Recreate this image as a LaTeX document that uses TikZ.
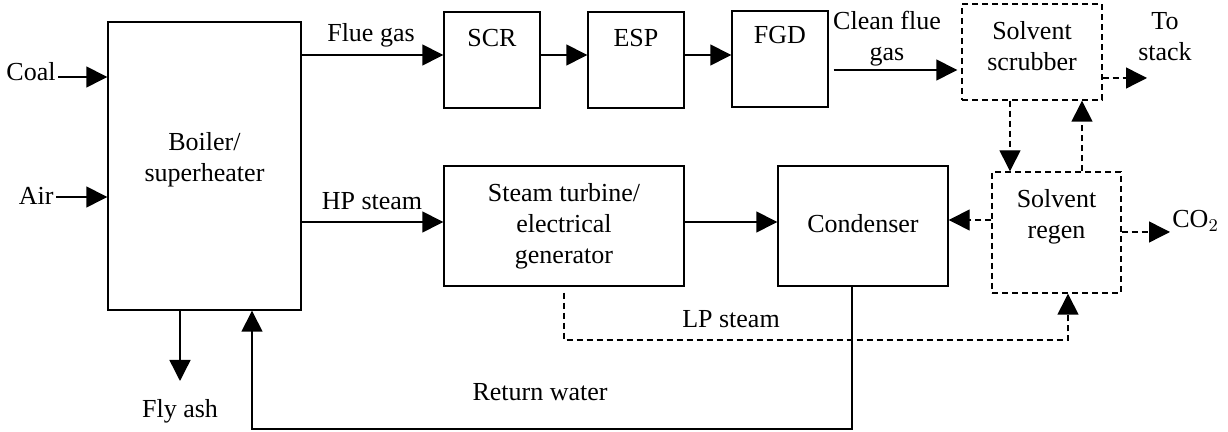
\documentclass[tikz,border=0pt]{standalone}
\usepackage{fontspec}
\setmainfont{Liberation Serif}
\usetikzlibrary{arrows.meta,positioning}

\begin{document}
\begin{tikzpicture}[
    x=0.5pt, y=-0.5pt,
    font=\fontsize{13}{15.5}\selectfont,
    box/.style={rectangle, draw, line width=0.7pt, inner sep=0pt, align=center},
    dbox/.style={box, dashed, dash pattern=on 3pt off 2pt},
    txt/.style={inner sep=1pt, align=center},
    intxt/.style={anchor=north, txt, yshift=-8pt},
    arrow/.style={-{Triangle[length=10.5pt,width=10.5pt]}, line width=0.7pt},
    darrow/.style={arrow, dash pattern=on 3pt off 2pt}
  ]
    \useasboundingbox (0,0) rectangle (1228,432);
    % blocks
    \node[box, minimum width=96.5pt, minimum height=144pt, label={[txt, yshift=3pt]center:{Boiler/\\superheater}}] (boiler) at (204.5,166) {};
    \node[box, minimum width=48pt, minimum height=48pt, label={[intxt]north:SCR}] (scr) at (492,60) {};
    \node[box, minimum width=48pt, minimum height=48pt, label={[intxt]north:ESP}] (esp) at (636,60) {};
    \node[box, minimum width=48pt, minimum height=48pt, label={[intxt, yshift=1pt]north:FGD}] (fgd) at (780,59) {};
    \node[dbox, minimum width=70pt, minimum height=48pt, label={[intxt]north:{Solvent\\scrubber}}] (scrub) at (1032,52) {};
    \node[dbox, minimum width=64.5pt, minimum height=60.5pt, label={[intxt]north:{Solvent\\regen}}] (regen) at (1056.5,232.5) {};
    \node[box, minimum width=120pt, minimum height=60pt] (turb) at (564,226) {Steam turbine/\\electrical\\generator};
    \node[box, minimum width=85pt, minimum height=60pt, label={[txt, yshift=1pt]center:Condenser}] (cond) at (863,226) {};
    % stream labels
    \node[txt, anchor=east] (coal) at (58,72) {Coal};
    \node[txt, anchor=east] (air) at (56,196) {Air};
    \node[txt] (flyash) at (180,411) {Fly ash};
    \node[txt] at (371,35) {Flue gas};
    \node[txt] at (372,201) {HP steam};
    \node[txt] at (887,39) {Clean flue\\gas};
    \node[txt] (stack) at (1165,37) {To\\stack};
    \node[txt, anchor=west] (co2) at (1170,221) {CO$_2$};
    \node[txt] at (731,319) {LP steam};
    \node[txt] at (540,392) {Return water};
    \coordinate (stk) at (1147,78);
    \coordinate (lpa) at (564,340);
    \coordinate (lpb) at (1068,340);
    \coordinate (rwa) at (852,429);
    \coordinate (rwb) at (252,429);
    % solid streams
    \draw[arrow] (coal.east |- 0,77) -- (boiler.west |- 0,77);
    \draw[arrow] (air.east |- 0,197) -- (boiler.west |- 0,197);
    \draw[arrow] (boiler.south -| flyash) -- (180,381);
    \draw[arrow] (boiler.east |- 0,55) -- (scr.west |- 0,55);
    \draw[arrow] (scr.east |- 0,55) -- (esp.west |- 0,55);
    \draw[arrow] (esp.east |- 0,55) -- (fgd.west |- 0,55);
    \draw[arrow, shorten <=2.5pt, shorten >=2pt] (fgd.east |- 0,70) -- (scrub.west |- 0,70);
    \draw[arrow] (boiler.east |- 0,222) -- (turb.west |- 0,222);
    \draw[arrow] (turb.east |- 0,222) -- (cond.west |- 0,222);
    \draw[arrow] (cond.south -| rwa) -- (rwa) -- (rwb) -- (boiler.south -| rwb);
    % solvent loop
    \draw[darrow] (scrub.east |- 0,78) -- (stk);
    \draw[darrow] (scrub.south -| 1010,0) -- (regen.north -| 1010,0);
    \draw[darrow] (regen.north -| 1082,0) -- (scrub.south -| 1082,0);
    \draw[darrow] (regen.west |- 0,220) -- (cond.east |- 0,220);
    \draw[darrow] (regen.east |- 0,232) -- (co2.west |- 0,232);
    \draw[darrow] ([yshift=-3pt]turb.south) -- (lpa) -- (lpb) -- (regen.south -| lpb);
  \end{tikzpicture}
\end{document}
